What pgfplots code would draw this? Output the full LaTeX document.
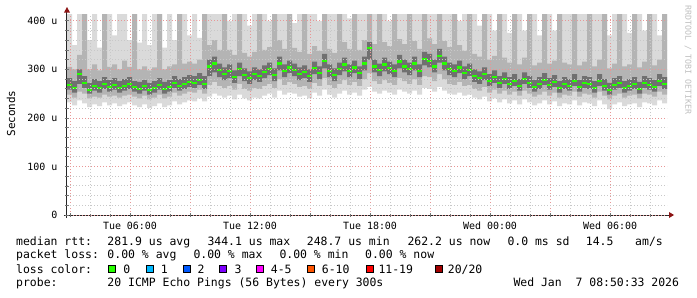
\documentclass[border=0pt]{standalone}
\usepackage{fontspec}
\setmainfont{DejaVu Sans Mono}
\usepackage{pgfplots}
\pgfplotsset{compat=1.18}
\usepgfplotslibrary{fillbetween}
\usepackage{pgfplotstable}
\definecolor{mgrid}{RGB}{232,150,150}
\definecolor{sgrid}{RGB}{200,200,200}
\definecolor{smokeA}{RGB}{218,218,218}
\definecolor{smokeB}{RGB}{180,180,180}
\definecolor{smokeC}{RGB}{112,112,112}
\definecolor{medgreen}{RGB}{38,255,0}
\definecolor{arrowred}{RGB}{140,20,20}
\definecolor{lc1}{RGB}{0,184,255}
\definecolor{lc2}{RGB}{0,89,255}
\definecolor{lc3}{RGB}{126,0,255}
\definecolor{lc4}{RGB}{255,0,255}
\definecolor{lc6}{RGB}{255,85,0}
\definecolor{lc11}{RGB}{255,0,0}
\definecolor{lc20}{RGB}{161,0,0}
\pgfplotstableread{
t lo1 lo2 lo3 m hi3 hi2 hi1
2.85 232 248 258 268 282 305 414
3.10 226 242 252 262 276 300 350
3.35 236 254 270 290 300 330 414
3.60 230 250 262 272 286 414 414
3.85 222 240 250 258 272 300 360
4.10 228 244 256 266 280 310 414
4.35 224 242 252 262 276 298 345
4.60 232 248 260 270 284 414 414
4.85 226 244 254 264 278 305 414
5.10 230 246 258 268 282 310 370
5.35 224 242 252 262 276 300 414
5.60 228 246 256 266 280 318 414
5.85 232 248 260 270 284 305 360
6.10 226 244 254 263 276 414 414
6.35 222 240 250 260 274 300 355
6.60 228 246 256 265 278 306 414
6.85 220 238 248 258 272 298 350
7.10 224 242 252 262 276 304 414
7.35 230 248 258 268 282 414 414
7.60 222 240 250 260 274 300 345
7.85 226 244 254 264 278 306 414
8.10 234 252 262 272 286 310 360
8.35 228 246 256 266 280 414 414
8.60 232 250 260 270 284 312 414
8.85 236 254 264 274 288 316 370
9.10 234 252 262 272 286 312 414
9.35 240 258 268 278 292 320 365
9.60 234 250 260 270 286 414 414
9.85 244 268 286 306 320 350 414
10.10 250 274 294 312 326 360 414
10.35 246 266 284 298 312 340 414
10.60 242 262 278 290 304 414 414
10.85 246 266 282 296 310 340 400
11.10 238 258 272 284 298 330 414
11.35 248 270 286 300 314 414 414
11.60 240 260 276 288 302 334 414
11.85 236 256 270 282 296 326 390
12.10 242 262 278 290 304 336 414
12.35 240 260 274 286 300 414 414
12.60 246 266 282 294 308 340 414
12.85 250 270 288 300 314 346 400
13.10 242 262 276 288 302 414 414
13.35 256 280 298 312 326 360 414
13.60 248 268 284 296 310 342 414
13.85 252 274 292 304 318 414 414
14.10 250 270 286 298 312 344 395
14.35 244 264 278 290 304 336 414
14.60 246 266 282 294 308 414 414
14.85 240 260 274 286 300 332 414
15.10 252 272 290 302 316 348 414
15.35 246 266 280 292 306 338 400
15.60 258 282 302 318 332 414 414
15.85 248 268 284 296 310 342 414
16.10 242 262 276 288 302 334 414
16.35 250 270 288 300 314 414 414
16.60 256 278 296 310 324 356 414
16.85 248 268 284 296 310 342 405
17.10 252 274 292 304 318 414 414
17.35 246 266 280 292 306 340 414
17.60 258 280 298 312 326 360 414
17.85 264 292 320 344 356 414 414
18.10 254 276 294 306 320 352 414
18.35 250 270 286 298 312 414 414
18.60 256 278 296 310 324 356 414
18.85 252 272 290 302 316 348 400
19.10 248 268 284 296 310 414 414
19.35 258 282 302 316 330 362 414
19.60 254 276 294 306 320 352 414
19.85 250 270 288 300 314 414 414
20.10 256 280 298 312 326 358 414
20.35 248 268 284 296 310 342 414
20.60 262 286 308 322 336 414 414
20.85 260 284 304 318 332 364 414
21.10 254 276 294 306 320 352 414
21.35 264 290 314 328 342 414 414
21.60 256 280 298 312 326 358 414
21.85 250 270 288 300 314 346 414
22.10 248 268 284 296 310 414 414
22.35 252 274 292 304 318 350 400
22.60 246 266 280 292 306 338 414
22.85 248 268 286 298 312 414 414
23.10 242 260 274 286 300 332 414
23.35 238 256 270 282 296 326 390
23.60 244 264 278 290 304 414 414
23.85 234 252 266 276 290 320 414
24.10 240 258 272 284 298 328 380
24.35 232 250 262 272 286 414 414
24.60 238 256 270 280 294 324 414
24.85 230 248 260 270 284 314 375
25.10 236 254 266 276 290 414 414
25.35 228 246 256 266 280 310 414
25.60 238 256 270 280 294 324 380
25.85 232 250 262 272 286 414 414
26.10 226 244 254 264 278 308 414
26.35 230 248 260 270 284 314 370
26.60 236 254 268 278 292 414 414
26.85 228 246 258 268 282 312 414
27.10 234 252 264 274 288 318 380
27.35 224 242 252 262 276 414 414
27.60 230 248 260 270 284 314 414
27.85 228 246 256 266 280 310 414
28.10 236 254 266 276 290 414 414
28.35 226 244 254 264 278 308 414
28.60 232 250 262 272 286 316 414
28.85 230 248 260 270 284 414 414
29.10 224 242 252 262 276 306 414
29.35 236 254 266 276 290 320 414
29.60 228 246 256 266 280 414 414
29.85 218 238 248 258 272 302 370
30.10 228 246 258 268 282 312 414
30.35 232 250 262 272 286 414 414
30.60 224 242 252 262 276 306 414
30.85 228 246 256 266 280 310 375
31.10 230 248 260 270 284 414 414
31.35 222 240 250 260 274 304 414
31.60 232 250 262 272 286 316 380
31.85 230 248 258 268 282 414 414
32.10 226 244 254 264 278 308 414
32.35 236 254 266 276 290 320 370
32.60 230 248 260 270 284 414 414
32.85 230 248 260 270 284 414 414
}\data
\newcommand{\legfont}{\fontsize{11.5}{13}\selectfont}
\begin{document}
\begin{tikzpicture}[x=1bp,y=1bp]
\path (-67,-82) rectangle (630,215);
\begin{axis}[
  at={(0,0)}, anchor=south west,
  scale only axis, width=600bp, height=201bp,
  xmin=2.85, xmax=32.85, ymin=0, ymax=414,
  axis on top,
  axis line style={draw=none},
  xtick pos=lower, ytick pos=left,
  xtick={3,6,...,30},
  xticklabels={,Tue 06:00,,Tue 12:00,,Tue 18:00,,Wed 00:00,,Wed 06:00},
  minor xtick={4,5,7,8,10,11,13,14,16,17,19,20,22,23,25,26,28,29,31,32},
  ytick={0,100,200,300,400},
  yticklabels={0,100 u,200 u,300 u,400 u},
  minor ytick={20,40,60,80,120,140,160,180,220,240,260,280,320,340,360,380},
  grid=both,
  major grid style={mgrid, dash pattern=on 1bp off 2bp, line width=0.8bp},
  minor grid style={sgrid, dash pattern=on 1bp off 2bp, line width=0.8bp},
  tick align=center,
  major tick length=4bp, minor tick length=3bp,
  tick style={black!55, line width=0.6bp},
  ticklabel style={font=\fontsize{10}{12}\selectfont, inner sep=0pt},
  xticklabel style={anchor=north, yshift=-5bp},
  yticklabel style={anchor=east, xshift=-7.5bp},
]
\addplot[const plot, draw=none, name path=lo1] table[x=t,y=lo1]{\data};
\addplot[const plot, draw=none, name path=hi1] table[x=t,y=hi1]{\data};
\addplot[const plot, draw=none, name path=lo2] table[x=t,y=lo2]{\data};
\addplot[const plot, draw=none, name path=hi2] table[x=t,y=hi2]{\data};
\addplot[const plot, draw=none, name path=lo3] table[x=t,y=lo3]{\data};
\addplot[const plot, draw=none, name path=hi3] table[x=t,y=hi3]{\data};
\addplot[fill=smokeA, draw=none] fill between[of=lo1 and hi1];
\addplot[fill=smokeB, draw=none] fill between[of=lo2 and hi2];
\addplot[fill=smokeC, draw=none] fill between[of=lo3 and hi3];
\addplot[jump mark left, draw=medgreen, line width=2.2bp] table[x=t,y=m]{\data};
\end{axis}
% axis lines and arrows
\draw[black!85, line width=1bp] (-3,0) -- (602,0);
\draw[black!85, line width=1bp] (0,-3) -- (0,203);
\fill[arrowred] (-3,202.5) -- (3,202.5) -- (0,208) -- cycle;
\fill[arrowred] (602,-3) -- (602,3) -- (607,0) -- cycle;
% axis title and watermark
\node[rotate=90, font=\fontsize{11}{13}\selectfont, inner sep=0pt] at (-56,101.5) {Seconds};
\node[rotate=-90, font=\fontsize{8.3}{10}\selectfont, text=black!25, inner sep=0pt, anchor=west] at (621,210) {RRDTOOL / TOBI OETIKER};
% legend
\begin{scope}[every node/.style={anchor=base west, inner sep=0pt, font=\legfont}]
\node at (-51,-30) {median rtt:};
\node at (40.3,-30) {281.9 us avg};
\node at (140.3,-30) {344.1 us max};
\node at (239.7,-30) {248.7 us min};
\node at (340.3,-30) {262.2 us now};
\node at (440.3,-30) {0.0 ms sd};
\node at (518.7,-30) {14.5};
\node at (568,-30) {am/s};
\node at (-51,-43.7) {packet loss:};
\node at (40.3,-43.7) {0.00 \% avg};
\node at (126.3,-43.7) {0.00 \% max};
\node at (212.3,-43.7) {0.00 \% min};
\node at (298,-43.7) {0.00 \% now};
\node at (-51,-58) {loss color:};
\node at (56.3,-58) {0};
\node at (93.7,-58) {1};
\node at (130.3,-58) {2};
\node at (167.3,-58) {3};
\node at (203.7,-58) {4-5};
\node at (254.7,-58) {6-10};
\node at (311.3,-58) {11-19};
\node at (380.7,-58) {20/20};
\node at (-51,-71.7) {probe:};
\node at (40.3,-71.7) {20 ICMP Echo Pings (56 Bytes) every 300s};
\node at (446.3,-71.7) {Wed Jan~~7 08:50:33 2026};
\end{scope}
\begin{scope}[draw=black, line width=0.8bp]
\filldraw[fill=medgreen] (41.5,-50.5) rectangle (48.5,-57.5);
\filldraw[fill=lc1] (79,-50.5) rectangle (86,-57.5);
\filldraw[fill=lc2] (116,-50.5) rectangle (123,-57.5);
\filldraw[fill=lc3] (152.5,-50.5) rectangle (159.5,-57.5);
\filldraw[fill=lc4] (189.5,-50.5) rectangle (196.5,-57.5);
\filldraw[fill=lc6] (240,-50.5) rectangle (247,-57.5);
\filldraw[fill=lc11] (299,-50.5) rectangle (306,-57.5);
\filldraw[fill=lc20] (368,-50.5) rectangle (375,-57.5);
\end{scope}
\end{tikzpicture}
\end{document}
